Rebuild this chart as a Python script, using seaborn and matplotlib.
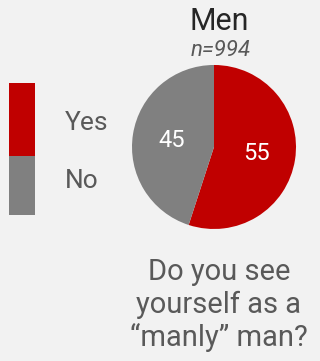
import matplotlib
matplotlib.use('Agg')
import matplotlib.pyplot as plt
import seaborn as sns
import numpy as np

answers = ['Yes', 'No']
shares = [55, 45]
colors = ['#c00000', '#808080']
title = 'Men'
sample = 'n=994'
question = 'Do you see\nyourself as a\n\u201cmanly\u201d man?'

sns.set_style('white')
plt.rcParams['font.family'] = ['Roboto', 'DejaVu Sans']

bg = '#f2f2f2'
fig = plt.figure(figsize=(3.2, 3.61), dpi=100, facecolor=bg)

# pie
ax = fig.add_axes([0.4125, 0.3657, 0.5125, 0.4543])
ax.set_facecolor(bg)
wedges, texts = ax.pie(shares, colors=colors, startangle=90, counterclock=False,
                       wedgeprops=dict(linewidth=0))
for w, v in zip(wedges, shares):
    ang = np.deg2rad((w.theta1 + w.theta2) / 2)
    ax.text(0.52 * np.cos(ang), 0.52 * np.sin(ang), str(v), color='white',
            fontsize=17, ha='center', va='center')
ax.set_xlim(-1, 1)
ax.set_ylim(-1, 1)
ax.axis('off')

# legend drawn as a stacked bar
lax = fig.add_axes([0.028, 0.4044, 0.081, 0.3657])
lax.set_facecolor(bg)
sns.barplot(x=[0], y=[sum(shares)], color=colors[0], width=1, ax=lax,
            saturation=1, linewidth=0)
sns.barplot(x=[0], y=[shares[1]], color=colors[1], width=1, ax=lax,
            saturation=1, linewidth=0)
lax.set_xlim(-0.5, 0.5)
lax.set_ylim(0, sum(shares))
lax.axis('off')

fig.text(65 / 320, 1 - 123 / 361, answers[0], fontsize=19, color='#595959',
         ha='left', va='center')
fig.text(65 / 320, 1 - 181 / 361, answers[1], fontsize=19, color='#595959',
         ha='left', va='center')

fig.text(219 / 320, 1 - 22 / 361, title, fontsize=22, color='#262626',
         ha='center', va='center')
fig.text(221 / 320, 1 - 51 / 361, sample, fontsize=16, color='#595959', style='italic',
         ha='center', va='center')
fig.text(219 / 320, 1 - 305 / 361, question, fontsize=21, color='#595959',
         ha='center', va='center', linespacing=1.18)

fig.savefig('out.png', dpi=100, facecolor=bg)
